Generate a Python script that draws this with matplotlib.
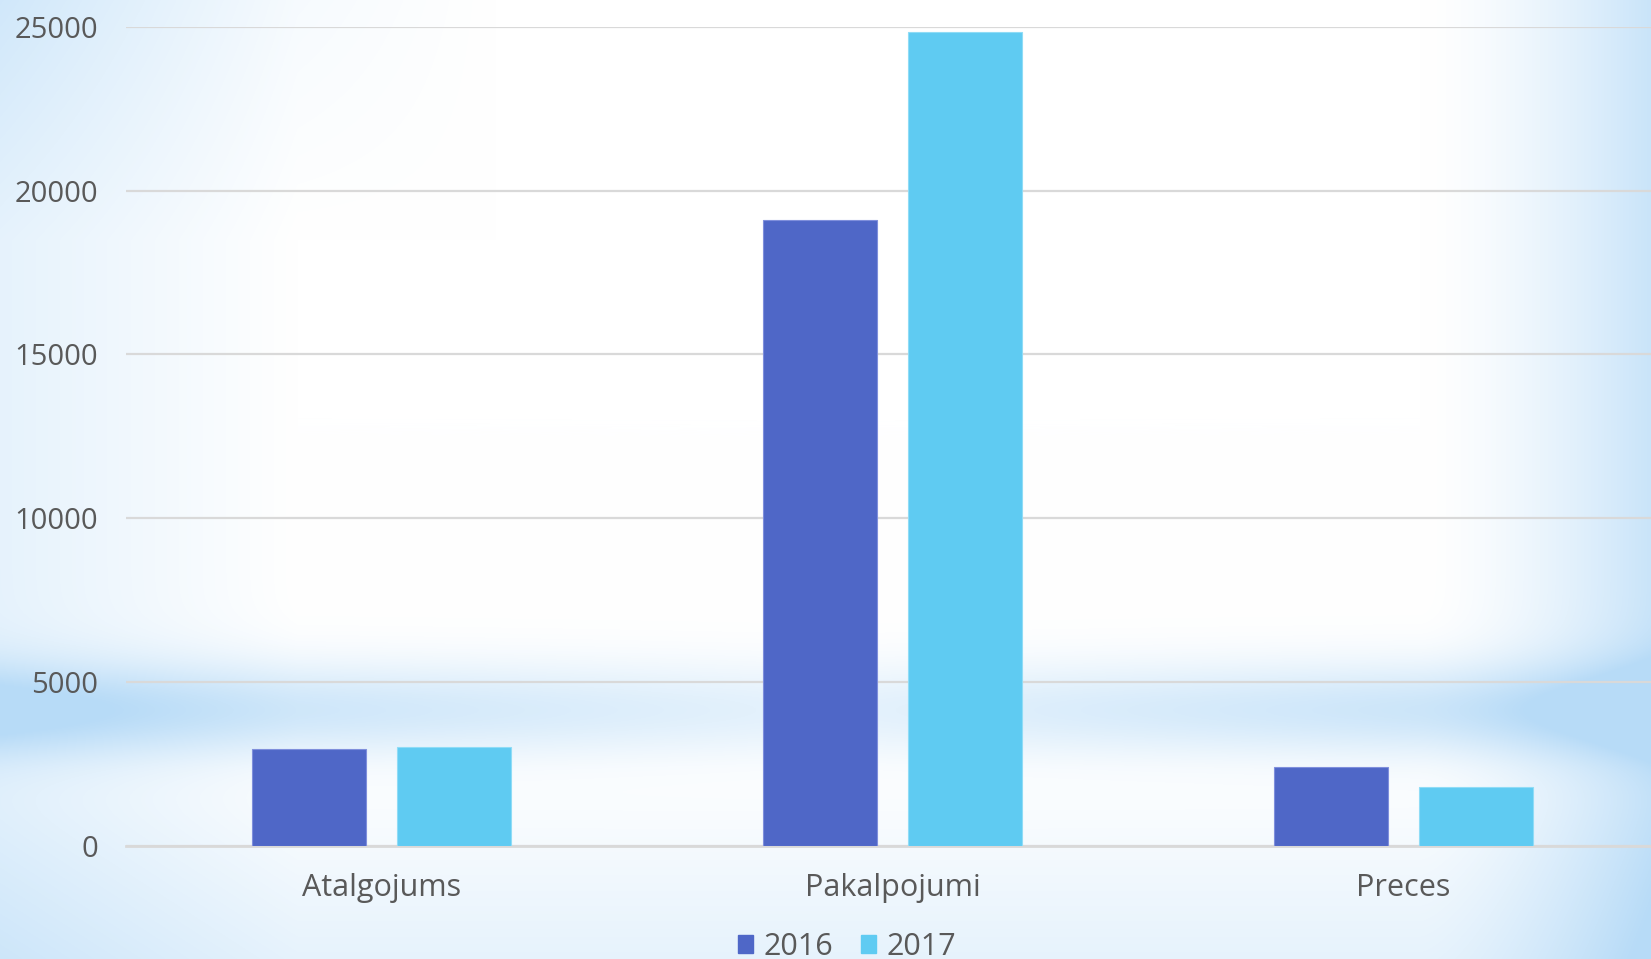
import numpy as np
import matplotlib.pyplot as plt
from matplotlib.patches import Patch

categories = ['Atalgojums', 'Pakalpojumi', 'Preces']
series_names = ['2016', '2017']
values_2016 = [2950, 19100, 2400]
values_2017 = [3020, 24850, 1800]
yticks = [0, 5000, 10000, 15000, 20000, 25000]

col_2016 = '#4F67C7'
col_2017 = '#5FCBF2'
txt = '#595959'

plt.rcParams['font.family'] = ['Open Sans', 'DejaVu Sans']

W, H = 1651, 959
fig = plt.figure(figsize=(W / 100, H / 100), dpi=100)

# soft blue background
yy, xx = np.mgrid[0:H, 0:W]
xn = xx / W
yn = yy / H
s = np.zeros((H, W))
s += np.clip((xn - 0.86) / 0.14, 0, 1) ** 1.5 * 0.75
s += np.clip((0.18 - xn) / 0.18, 0, 1) * 0.35
s += np.clip((0.25 - yn) / 0.25, 0, 1) * np.clip((0.3 - xn) / 0.3, 0, 1) * 0.3
band = np.exp(-((yn - 0.74) / 0.05) ** 2) * (0.35 + 0.5 * np.abs(xn - 0.5) * 2)
s += band
s += np.clip((yn - 0.8) / 0.2, 0, 1) * 0.35
s = np.clip(s, 0, 1)
blue = np.array([0.72, 0.86, 0.97])
img = np.ones(3) * (1 - s[..., None]) + blue * s[..., None]
bg = fig.add_axes([0, 0, 1, 1])
bg.imshow(img, aspect='auto')
bg.axis('off')

ax = fig.add_axes([126 / W, (H - 845.7) / H, 1533 / W, 819 / H])
ax.patch.set_alpha(0)

x = np.arange(len(categories))
bw = 0.223
off = 0.142
ax.bar(x - off, values_2016, bw, color=col_2016, edgecolor='#7f8fdc', linewidth=0.8, zorder=3)
ax.bar(x + off, values_2017, bw, color=col_2017, edgecolor='#8fdcf6', linewidth=0.8, zorder=3)

ax.set_xlim(-0.5, 2.5)
ax.set_ylim(0, 25000)
ax.set_yticks(yticks)
ax.set_yticklabels([str(v) for v in yticks])
ax.set_xticks(x)
ax.set_xticklabels(categories)
ax.yaxis.grid(True, color='#D9D9D9', linewidth=1.6)
ax.set_axisbelow(True)
for sp in ['top', 'right', 'left']:
    ax.spines[sp].set_visible(False)
ax.spines['bottom'].set_color('#D9D9D9')
ax.spines['bottom'].set_linewidth(2)
ax.tick_params(axis='y', length=0, pad=20, labelsize=21, labelcolor=txt)
ax.tick_params(axis='x', length=0, pad=20, labelsize=22, labelcolor=txt)

handles = [Patch(color=col_2016), Patch(color=col_2017)]
fig.legend(handles, series_names, loc='center', bbox_to_anchor=(0.513, 1 - 947 / H),
           ncol=2, frameon=False, fontsize=22, labelcolor=txt,
           handlelength=0.5, handleheight=0.5, handletextpad=0.35, columnspacing=0.9)

fig.savefig('out.png', dpi=100)
